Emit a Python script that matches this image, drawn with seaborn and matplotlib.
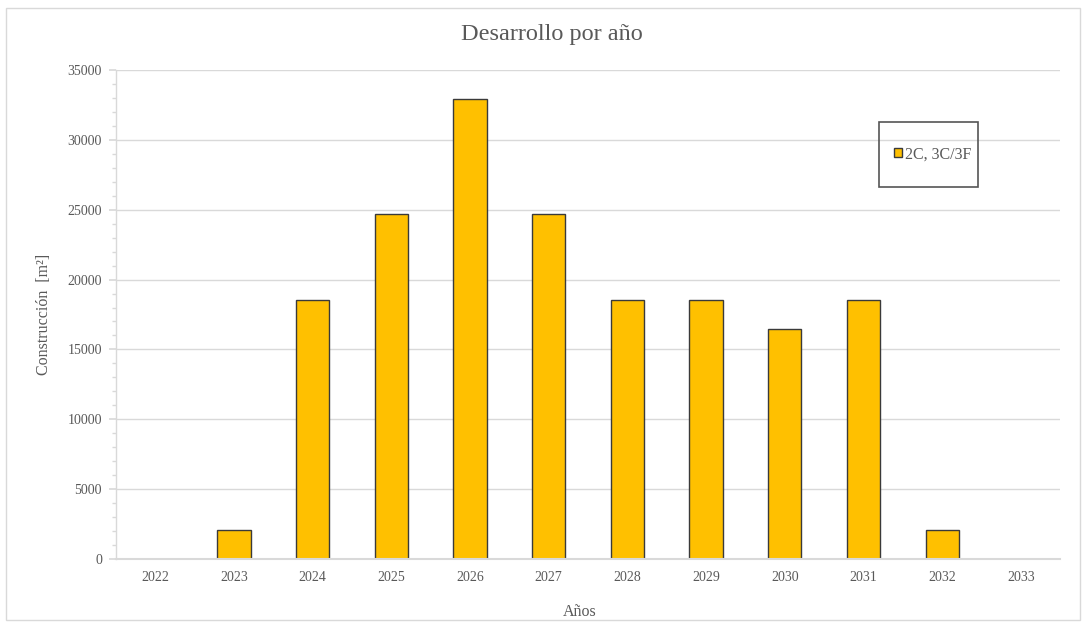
import matplotlib
matplotlib.use("Agg")
import matplotlib.pyplot as plt
from matplotlib.patches import Rectangle, Patch
from matplotlib.ticker import MultipleLocator
import seaborn as sns
import pandas as pd

years = ["2022", "2023", "2024", "2025", "2026", "2027",
         "2028", "2029", "2030", "2031", "2032", "2033"]
construccion = [0, 2060, 18530, 24700, 32950, 24700,
                18530, 18530, 16470, 18530, 2060, 0]
series_name = "2C, 3C/3F"

df = pd.DataFrame({"Año": years, "Construcción": construccion})

sns.set_theme(style="white")
plt.rcParams["font.family"] = ["Liberation Serif", "DejaVu Serif"]

text_gray = "#595959"
grid_gray = "#d9d9d9"
bar_color = "#FFC000"
bar_edge = "#3a3a3a"

fig = plt.figure(figsize=(10.87, 6.28), dpi=100)
ax = fig.add_axes([0.1067, 0.1099, 0.8685, 0.7786])

sns.barplot(data=df, x="Año", y="Construcción", order=years,
            color=bar_color, saturation=1, width=0.42, edgecolor=bar_edge,
            linewidth=1.0, ax=ax)

# zero-height bars leave no visible mark
for p in ax.patches:
    if p.get_height() == 0:
        p.set_visible(False)

ax.set_ylim(0, 35000)
ax.set_xlim(-0.5, len(years) - 0.5)
ax.yaxis.set_major_locator(MultipleLocator(5000))
ax.yaxis.set_minor_locator(MultipleLocator(1000))
ax.grid(axis="y", which="major", color=grid_gray, linewidth=1.0)
ax.set_axisbelow(True)

for side in ["top", "right"]:
    ax.spines[side].set_visible(False)
ax.spines["left"].set_color(grid_gray)
ax.spines["bottom"].set_color(grid_gray)
ax.spines["left"].set_linewidth(1.0)
ax.spines["bottom"].set_linewidth(1.5)

ax.tick_params(axis="y", which="major", left=True, length=5, color=grid_gray,
               labelsize=10, labelcolor=text_gray, pad=5)
ax.tick_params(axis="y", which="minor", left=True, length=3, color=grid_gray)
ax.tick_params(axis="x", bottom=False, labelsize=10, labelcolor=text_gray, pad=3)

ax.set_xlabel("Años", fontsize=11.5, color=text_gray)
ax.xaxis.set_label_coords(0.491, -0.092)
ax.set_ylabel("Construcción  [m²]", fontsize=11.5, color=text_gray, labelpad=11)
fig.suptitle("Desarrollo por año", x=0.508, y=0.962, fontsize=17.5, color=text_gray)

leg = ax.legend(handles=[Patch(facecolor=bar_color, edgecolor=bar_edge, linewidth=1.0)],
                labels=[series_name], loc="center left",
                bbox_to_anchor=(0.824, 0.827), frameon=False,
                fontsize=11.5, handlelength=0.5, handleheight=0.5,
                handletextpad=0.2, borderpad=0, borderaxespad=0)
for t in leg.get_texts():
    t.set_color(text_gray)

# legend frame
ax.add_patch(Rectangle((0.808, 0.761), 0.105, 0.133, transform=ax.transAxes,
                       fill=False, edgecolor="#555555", linewidth=1.2,
                       clip_on=False, zorder=5))

# outer chart border
fig.patches.append(Rectangle((6 / 1087, 8 / 628), 1074 / 1087, 612 / 628,
                             transform=fig.transFigure, fill=False,
                             edgecolor="#d9d9d9", linewidth=1.0))

fig.savefig("out.png", dpi=100)
